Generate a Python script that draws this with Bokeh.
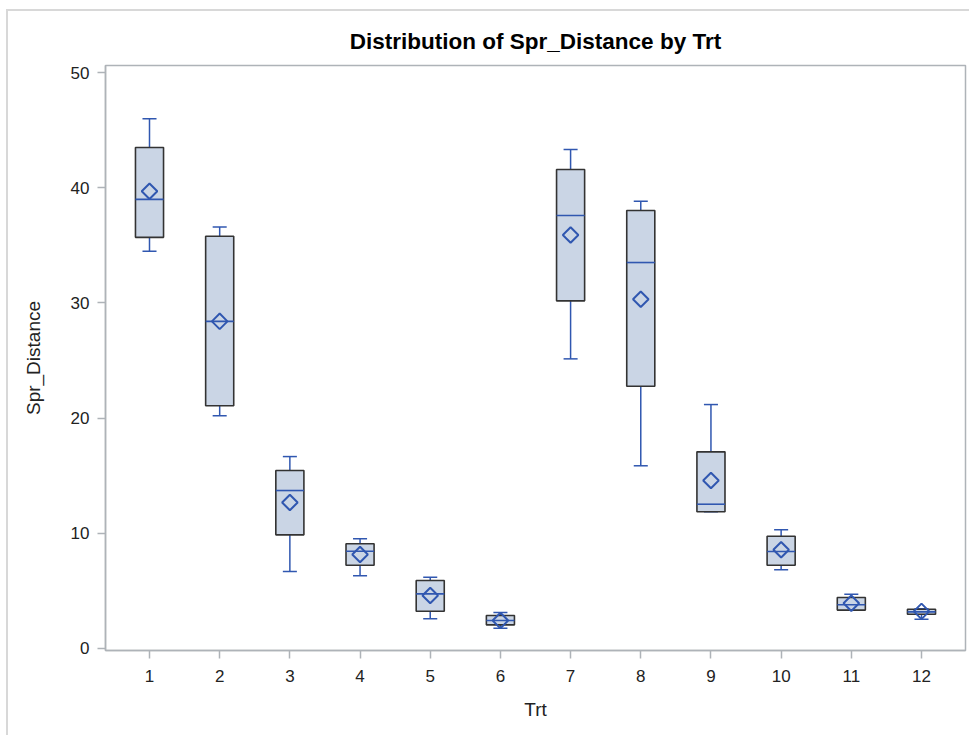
import numpy as np
from bokeh.plotting import figure
from bokeh.models import Range1d, FixedTicker, ColumnDataSource
from bokeh.embed import file_html
from bokeh.resources import INLINE

# ---- data ----
trt = [1, 2, 3, 4, 5, 6, 7, 8, 9, 10, 11, 12]
upper_whisker = [46.0, 36.6, 16.65, 9.5, 6.17, 3.10, 43.33, 38.84, 21.17, 10.29, 4.69, 3.42]
q3 = [43.5, 35.8, 15.44, 9.07, 5.88, 2.84, 41.6, 38.03, 17.06, 9.73, 4.40, 3.39]
median = [39.0, 28.4, 13.70, 8.43, 4.72, 2.41, 37.6, 33.51, 12.51, 8.40, 3.77, 3.16]
mean = [39.7, 28.4, 12.66, 8.14, 4.58, 2.40, 35.9, 30.32, 14.57, 8.55, 3.91, 3.20]
q1 = [35.7, 21.06, 9.85, 7.21, 3.21, 2.03, 30.18, 22.76, 11.85, 7.21, 3.31, 2.95]
lower_whisker = [34.5, 20.2, 6.66, 6.29, 2.55, 1.74, 25.14, 15.85, 11.85, 6.81, 3.31, 2.52]
y_ticks = [0, 10, 20, 30, 40, 50]

BOX_W = 0.4
CAP_W = 0.2
BLUE = "#3057B0"
FILL = "#CAD5E5"
AXIS_GRAY = "#AEB3B8"
FONT = "Liberation Sans"

x = np.array(trt, dtype=float)
src = ColumnDataSource(dict(
    x=x, q1=q1, q3=q3, med=median, mean=mean, lo=lower_whisker, hi=upper_whisker,
    bx0=x - BOX_W / 2, bx1=x + BOX_W / 2,
    cx0=x - CAP_W / 2, cx1=x + CAP_W / 2,
))

p = figure(width=969, height=735, output_backend="svg", toolbar_location=None,
           x_range=Range1d(0.373, 12.627), y_range=Range1d(-0.2, 50.63),
           min_border_left=105, min_border_right=4, min_border_top=65, min_border_bottom=85)

p.title.text = "Distribution of Spr_Distance by Trt"
p.title.align = "center"
p.title.text_font = FONT
p.title.text_font_size = "22.5px"
p.title.text_font_style = "bold"
p.title.text_color = "#000000"
p.title.standoff = 23

p.background_fill_color = "white"
p.border_fill_color = None
# light gray page border (left and top edges) drawn behind the transparent canvas border
p.styles = {
    "background": "linear-gradient(#D8D8D8,#D8D8D8) 6px 9px / 2px 726px no-repeat, "
                  "linear-gradient(#D8D8D8,#D8D8D8) 6px 9px / 963px 2px no-repeat, white"
}
p.outline_line_color = AXIS_GRAY
p.outline_line_width = 1.5
p.xgrid.visible = False
p.ygrid.visible = False

for ax in (p.xaxis[0], p.yaxis[0]):
    ax.axis_line_color = AXIS_GRAY
    ax.axis_line_width = 1.5
    ax.major_tick_line_color = AXIS_GRAY
    ax.major_tick_line_width = 1.5
    ax.major_tick_out = 8
    ax.major_tick_in = 0
    ax.minor_tick_line_color = None
    ax.major_label_text_font = FONT
    ax.major_label_text_font_size = "17px"
    ax.major_label_text_color = "#222222"
    ax.axis_label_text_font = FONT
    ax.axis_label_text_font_size = "19px"
    ax.axis_label_text_font_style = "normal"
    ax.axis_label_text_color = "#222222"

p.xaxis.axis_label = "Trt"
p.xaxis.ticker = FixedTicker(ticks=trt)
p.xaxis.major_label_standoff = 11
p.xaxis.axis_label_standoff = 14

p.yaxis.axis_label = "Spr_Distance"
p.yaxis.ticker = FixedTicker(ticks=y_ticks)
p.yaxis.major_label_standoff = 8
p.yaxis.axis_label_standoff = 24

# whiskers
p.segment(x0="x", y0="q3", x1="x", y1="hi", source=src, line_color=BLUE, line_width=1.5)
p.segment(x0="x", y0="q1", x1="x", y1="lo", source=src, line_color=BLUE, line_width=1.5)
p.segment(x0="cx0", y0="hi", x1="cx1", y1="hi", source=src, line_color=BLUE, line_width=1.5)
p.segment(x0="cx0", y0="lo", x1="cx1", y1="lo", source=src, line_color=BLUE, line_width=1.5)

# boxes
p.vbar(x="x", width=BOX_W, top="q3", bottom="q1", source=src,
       fill_color=FILL, line_color="#333333", line_width=1.6)

# medians
p.segment(x0="bx0", y0="med", x1="bx1", y1="med", source=src, line_color=BLUE, line_width=1.6)

# means (diamonds)
p.scatter(x="x", y="mean", source=src, marker="square", angle=np.pi / 4, size=11,
          fill_color=None, line_color=BLUE, line_width=2)

open("out.html", "w").write(file_html(p, INLINE))
